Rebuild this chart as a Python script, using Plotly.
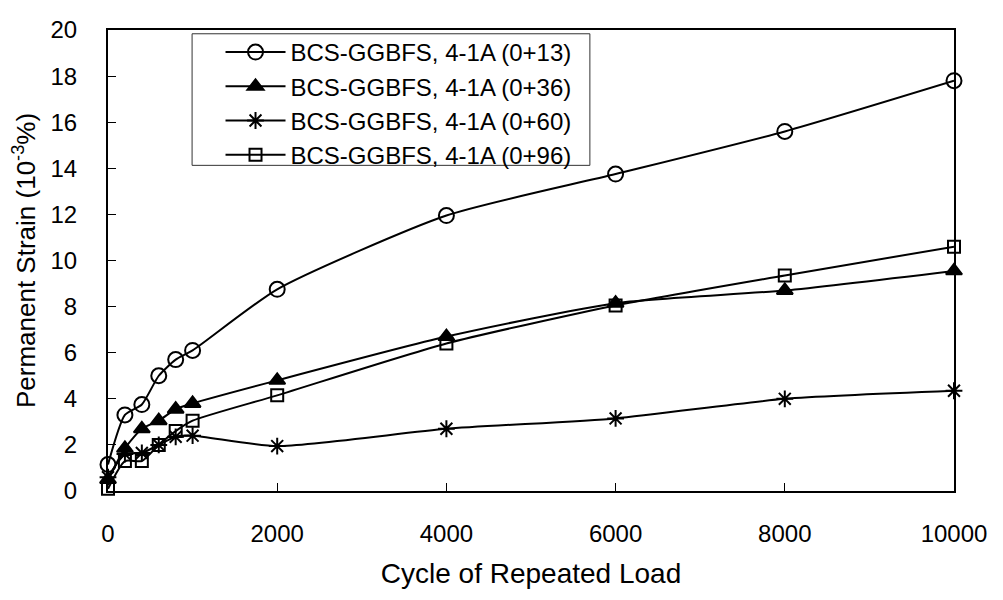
import plotly.graph_objects as go

cycles = [0, 200, 400, 600, 800, 1000, 2000, 4000, 6000, 8000, 10000]

strain_013 = [1.15, 3.3, 3.75, 5.0, 5.7, 6.1, 8.75, 11.95, 13.75, 15.6, 17.8]
strain_036 = [0.5, 1.85, 2.7, 3.05, 3.55, 3.8, 4.8, 6.7, 8.15, 8.7, 9.55]
strain_060 = [0.6, 1.6, 1.65, 2.0, 2.35, 2.4, 1.95, 2.7, 3.15, 4.0, 4.35]
strain_096 = [0.1, 1.3, 1.3, 2.0, 2.6, 3.05, 4.15, 6.4, 8.05, 9.35, 10.6]

names = ["BCS-GGBFS, 4-1A (0+13)", "BCS-GGBFS, 4-1A (0+36)",
         "BCS-GGBFS, 4-1A (0+60)", "BCS-GGBFS, 4-1A (0+96)"]
series = [strain_013, strain_036, strain_060, strain_096]
symbols = ["circle-open", "triangle-up", "asterisk-open", "square-open"]
sizes = [15, 14, 14, 12]

fig = go.Figure()
for name, ys, sym, sz in zip(names, series, symbols, sizes):
    fig.add_trace(go.Scatter(
        x=cycles, y=ys, name=name, mode="lines+markers",
        line=dict(color="black", width=2, shape="spline", smoothing=0.6),
        marker=dict(symbol=sym, size=sz, color="black",
                    line=dict(color="black", width=2)),
        cliponaxis=False))

font = "Liberation Sans, Arial, sans-serif"

# legend frame (the legend itself is drawn without border inside it)
fig.add_shape(type="rect", xref="paper", yref="paper",
              x0=0.0994, x1=0.5696, y0=0.7064, y1=0.9918,
              line=dict(color="#333", width=1), fillcolor="white", layer="above")

# page body has an 8px margin, so the figure is a bit smaller than the window
fig.update_layout(
    width=987, height=584,
    margin=dict(l=100, r=32, t=8, b=89),
    plot_bgcolor="white", paper_bgcolor="white",
    font=dict(family=font, size=24, color="black"),
    legend=dict(x=0.133, y=1.0, xanchor="left", yanchor="top",
                bgcolor="rgba(0,0,0,0)", borderwidth=0, itemwidth=60,
                font=dict(family=font, size=24, color="black")),
)
fig.update_xaxes(range=[0, 10000], dtick=2000, tickformat="d",
                 showgrid=False, zeroline=False,
                 showline=True, linecolor="black", linewidth=2, mirror=True,
                 ticks="inside", ticklen=8, tickcolor="black", tickwidth=1,
                 ticklabelstandoff=20, ticklabeloverflow="allow",
                 tickfont=dict(size=24),
                 title=dict(text="Cycle of Repeated Load", standoff=18,
                            font=dict(size=28)))
fig.update_yaxes(range=[0, 20], dtick=2, showgrid=False, zeroline=False,
                 showline=True, linecolor="black", linewidth=2, mirror=True,
                 ticks="inside", ticklen=8, tickcolor="black", tickwidth=1,
                 ticklabelstandoff=24, ticklabeloverflow="allow",
                 tickfont=dict(size=24),
                 title=dict(text="Permanent Strain (10<sup>-3</sup>%)", standoff=14,
                            font=dict(size=26)))

fig.write_html("out.html")
